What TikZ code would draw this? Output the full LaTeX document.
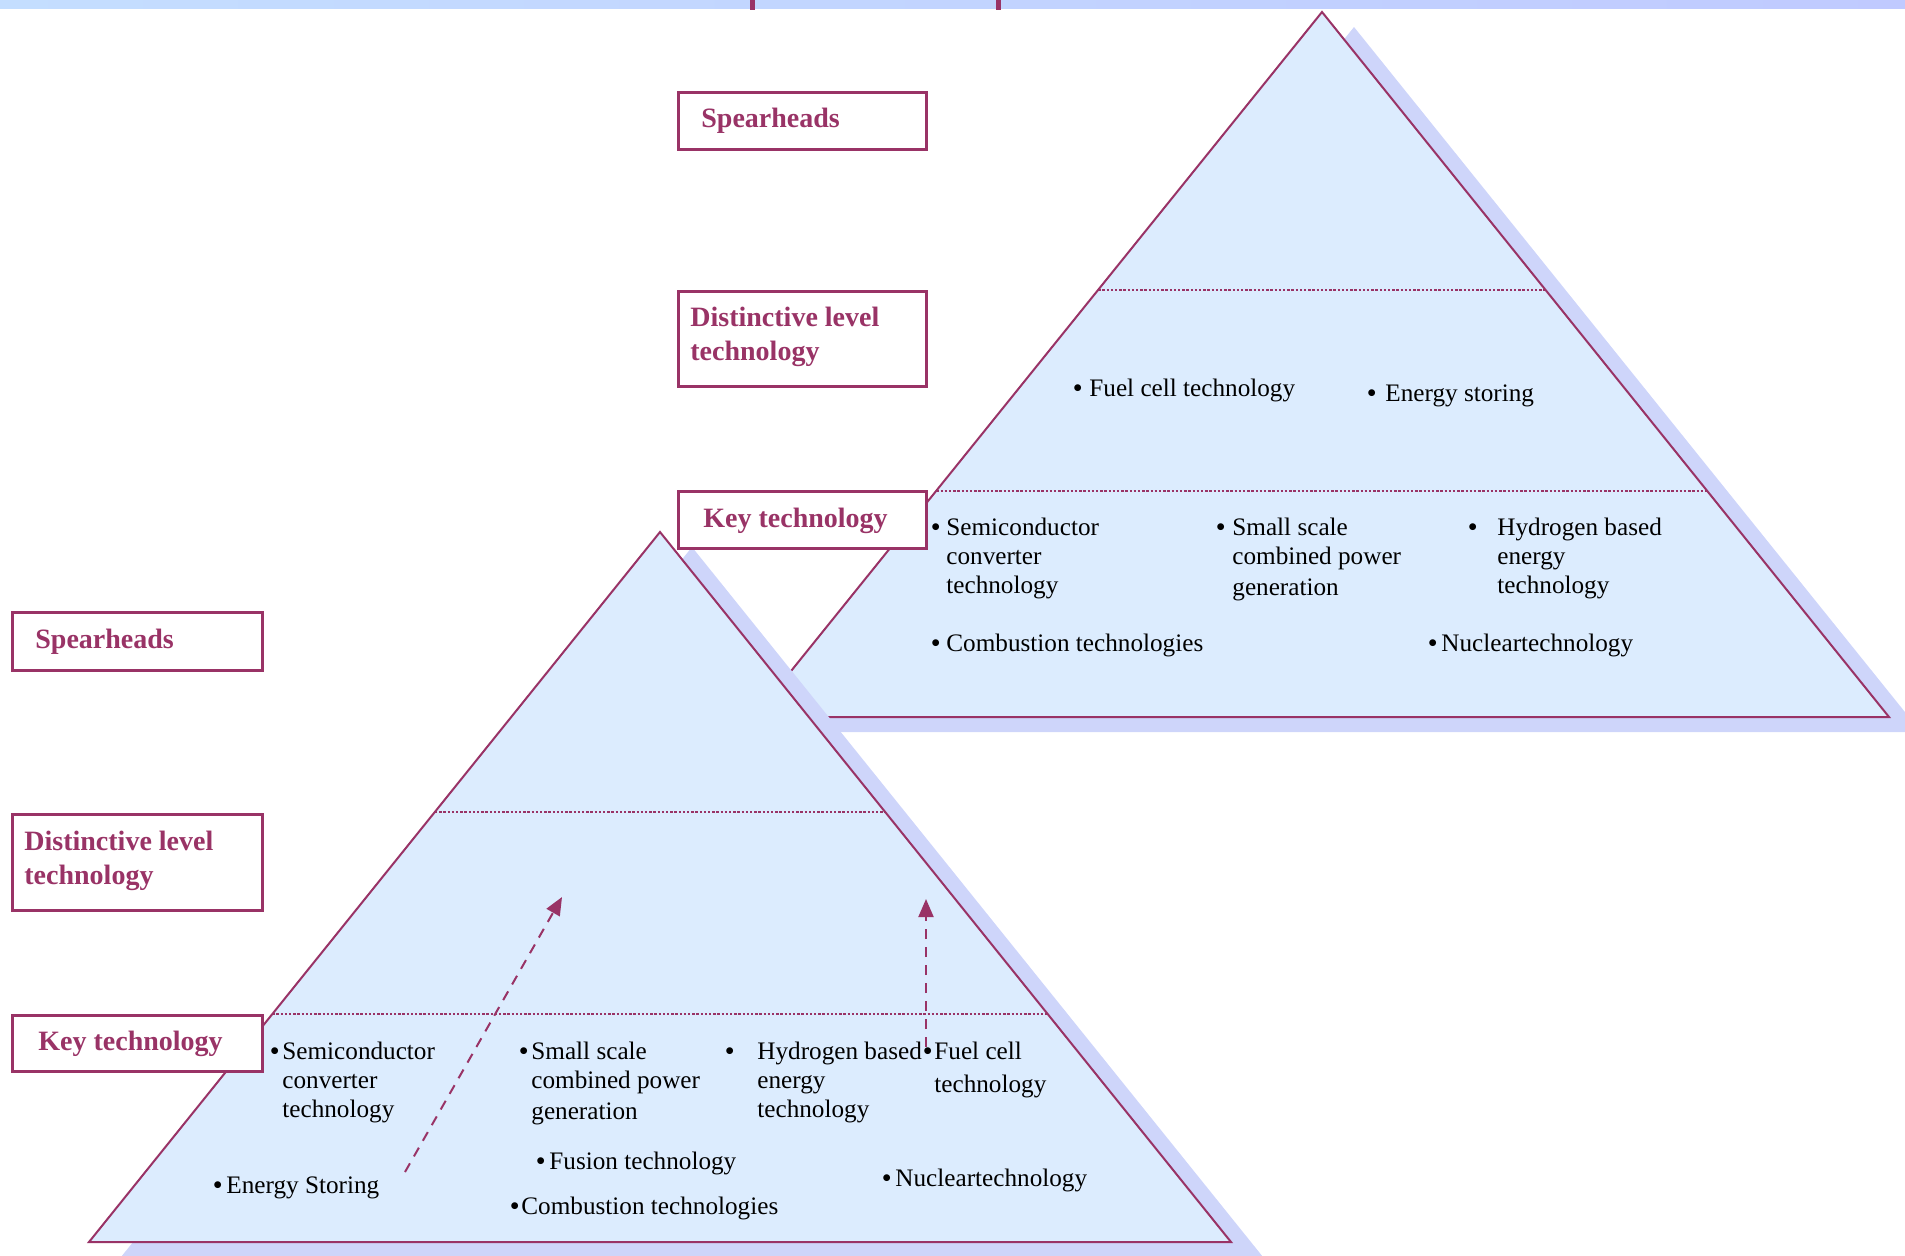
\documentclass[tikz,border=0pt]{standalone}
\usepackage{fontspec}
\setmainfont{Liberation Serif}
\usetikzlibrary{arrows.meta,calc}
\definecolor{maroon}{RGB}{153,51,102}
\definecolor{pyrfill}{RGB}{220,236,254}
\definecolor{shadowc}{RGB}{206,213,250}
\definecolor{bandL}{RGB}{196,222,255}
\definecolor{bandR}{RGB}{192,202,255}
\begin{document}
\begin{tikzpicture}[x=0.5pt,y=-0.5pt,
  pyr/.style={fill=pyrfill, draw=maroon, line width=1pt, line join=miter},
  shad/.style={fill=shadowc},
  level/.style={draw=maroon, line width=1pt, dash pattern=on 1.2pt off 0.9pt},
  lblbox/.style={draw=maroon, line width=1.3pt, fill=white, inner sep=0, anchor=north west},
  lab/.style={anchor=base west, inner sep=0, text=maroon, font=\fontsize{14}{16}\selectfont\bfseries},
  body/.style={anchor=base west, inner sep=0, text=black, font=\fontsize{12.6}{15}\selectfont},
  bul/.style={anchor=base west, inner sep=0, text=black, font=\fontsize{12.6}{15}\selectfont\bfseries},
  flow/.style={draw=maroon, line width=1pt, dash pattern=on 5pt off 4pt, -{Triangle[length=9pt,width=7.5pt]}},
  tickmark/.style={fill=maroon}
]
\useasboundingbox (0,0) rectangle (1905,1255);
\clip (0,0) rectangle (1905,1255);

% top band
\shade[left color=bandL, right color=bandR] (0,0) rectangle (1905,8);
\fill[tickmark] (750,0) rectangle (755,10);
\fill[tickmark] (996,0) rectangle (1001,10);

% upper pyramid
\coordinate (uA) at (1322,12);
\coordinate (uL) at (754,717);
\coordinate (uR) at (1889,717);
\fill[shad] ([shift={(32,15)}]uA) -- ([shift={(32,15)}]uL) -- ([shift={(32,15)}]uR) -- cycle;
\draw[pyr] (uA) -- (uL) -- (uR) -- cycle;
\draw[level] ($(uA)!0.394!(uL)$) -- ($(uA)!0.394!(uR)$);
\draw[level] ($(uA)!0.679!(uL)$) -- ($(uA)!0.679!(uR)$);

% lower pyramid
\coordinate (lA) at (660,532);
\coordinate (lL) at (89,1242);
\coordinate (lR) at (1231,1242);
\fill[shad] ([shift={(32,15)}]lA) -- ([shift={(32,15)}]lL) -- ([shift={(32,15)}]lR) -- cycle;
\draw[pyr] (lA) -- (lL) -- (lR) -- cycle;
\draw[level] ($(lA)!0.394!(lL)$) -- ($(lA)!0.394!(lR)$);
\draw[level] ($(lA)!0.679!(lL)$) -- ($(lA)!0.679!(lR)$);

% label boxes (upper)
\node[lblbox, minimum width=124pt, minimum height=28.5pt] (uSpBox) at (677,91) {};
\node[lblbox, minimum width=124pt, minimum height=47.5pt] (uDiBox) at (677,290) {};
\node[lblbox, minimum width=124pt, minimum height=28.5pt] (uKeBox) at (677,490) {};
\node[lab] (uSp) at (701,127) {Spearheads};
\node[lab] (uDi1) at (690,326) {Distinctive level};
\node[lab] (uDi2) at (690,360) {technology};
\node[lab] (uKe) at (703,527) {Key technology};

% label boxes (lower)
\node[lblbox, minimum width=125pt, minimum height=29pt] (lSpBox) at (11,611) {};
\node[lblbox, minimum width=125pt, minimum height=48pt] (lDiBox) at (11,813) {};
\node[lblbox, minimum width=125pt, minimum height=28pt] (lKeBox) at (11,1014) {};
\node[lab] (lSp) at (35,648) {Spearheads};
\node[lab] (lDi1) at (24,850) {Distinctive level};
\node[lab] (lDi2) at (24,884) {technology};
\node[lab] (lKe) at (38,1050) {Key technology};

% upper pyramid items
\node[bul] (uFb) at (1073,396) {•};
\node[body] (uF) at (1089,396) {Fuel cell technology};
\node[bul] (uEb) at (1367,401) {•};
\node[body] (uE) at (1385,401) {Energy storing};
\node[bul] (uSb) at (931,535) {•};
\node[body] (uS1) at (946,535) {Semiconductor};
\node[body] (uS2) at (946,564) {converter};
\node[body] (uS3) at (946,593) {technology};
\node[bul] (uCb) at (1216,535) {•};
\node[body] (uC1) at (1232,535) {Small scale};
\node[body] (uC2) at (1232,564) {combined power};
\node[body] (uC3) at (1232,595) {generation};
\node[bul] (uHb) at (1468,535) {•};
\node[body] (uH1) at (1497,535) {Hydrogen based};
\node[body] (uH2) at (1497,564) {energy};
\node[body] (uH3) at (1497,593) {technology};
\node[bul] (uBb) at (931,651) {•};
\node[body] (uB) at (946,651) {Combustion technologies};
\node[bul] (uNb) at (1428,651) {•};
\node[body] (uN) at (1441,651) {Nucleartechnology};

% lower pyramid items
\node[bul] (lSb) at (270,1059) {•};
\node[body] (lS1) at (282,1059) {Semiconductor};
\node[body] (lS2) at (282,1088) {converter};
\node[body] (lS3) at (282,1117) {technology};
\node[bul] (lCb) at (519,1059) {•};
\node[body] (lC1) at (531,1059) {Small scale};
\node[body] (lC2) at (531,1088) {combined power};
\node[body] (lC3) at (531,1119) {generation};
\node[bul] (lHb) at (725,1059) {•};
\node[body] (lH1) at (757,1059) {Hydrogen based};
\node[body] (lH2) at (757,1088) {energy};
\node[body] (lH3) at (757,1117) {technology};
\node[bul] (lFb) at (923,1059) {•};
\node[body] (lF1) at (934,1059) {Fuel cell};
\node[body] (lF2) at (934,1092) {technology};
\node[bul] (lUb) at (536,1169) {•};
\node[body] (lU) at (549,1169) {Fusion technology};
\node[bul] (lEb) at (213,1193) {•};
\node[body] (lE) at (226,1193) {Energy Storing};
\node[bul] (lNb) at (882,1186) {•};
\node[body] (lN) at (895,1186) {Nucleartechnology};
\node[bul] (lBb) at (510,1214) {•};
\node[body] (lB) at (521,1214) {Combustion technologies};

% arrows
\coordinate (a1s) at (405,1172);
\coordinate (a1e) at (562,897);
\coordinate (a2s) at (926,1047);
\coordinate (a2e) at (926,899);
\draw[flow] (a1s) -- (a1e);
\draw[flow] (a2s) -- (a2e);
\end{tikzpicture}
\end{document}
